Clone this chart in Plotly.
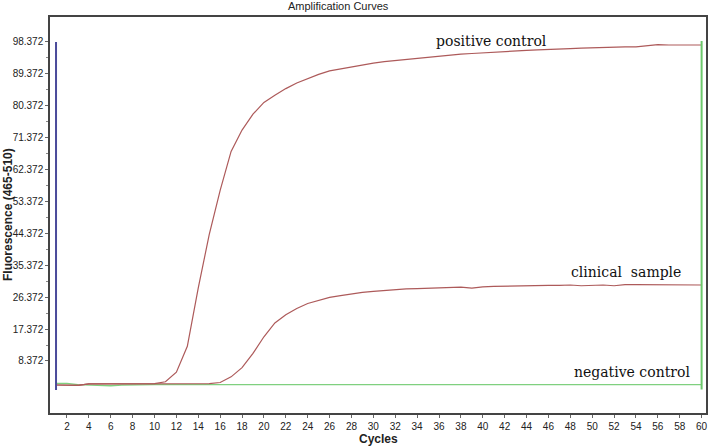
import plotly.graph_objects as go

cycles = list(range(1, 61))

positive_control = [1.6, 1.6, 1.5, 1.9, 1.9, 1.9, 1.9, 1.9, 1.9, 2.0,
                    2.5, 5.2, 12.5, 29.0, 44.0, 56.5, 67.5, 73.5, 78.0, 81.3,
                    83.3, 85.2, 86.8, 88.1, 89.2, 90.2, 90.8, 91.3, 91.9, 92.4,
                    92.8, 93.1, 93.4, 93.8, 94.2, 94.4, 94.7, 94.9, 95.1, 95.3,
                    95.6, 95.8, 95.9, 96.0, 96.1, 96.3, 96.4, 96.5, 96.6, 96.7,
                    96.8, 97.1, 97.0, 97.0, 97.2, 97.6, 97.5, 97.4, 97.5, 97.5]

clinical_sample = [1.6, 1.6, 1.5, 1.9, 1.9, 1.9, 1.9, 1.9, 1.9, 1.9,
                   1.9, 1.9, 1.9, 2.0, 2.0, 2.3, 3.9, 6.5, 10.5, 15.2,
                   19.1, 21.4, 23.2, 24.6, 25.5, 26.3, 26.8, 27.3, 27.7, 28.0,
                   28.3, 28.5, 28.7, 28.8, 28.9, 28.9, 29.1, 29.2, 28.9, 29.3,
                   29.4, 29.5, 29.6, 29.6, 29.7, 29.7, 29.7, 29.8, 29.6, 29.8,
                   29.8, 29.6, 29.9, 29.9, 29.9, 30.0, 29.8, 29.9, 29.9, 29.8]

negative_control = [2.0, 2.0, 1.7, 1.6, 1.4, 1.4, 1.6, 1.7, 1.7, 1.7,
                    1.7, 1.7, 1.7, 1.8, 1.8, 1.7, 1.7, 1.7, 1.7, 1.7,
                    1.7, 1.7, 1.7, 1.7, 1.7, 1.7, 1.7, 1.7, 1.7, 1.7,
                    1.7, 1.7, 1.7, 1.7, 1.7, 1.7, 1.7, 1.7, 1.7, 1.7,
                    1.7, 1.7, 1.8, 1.7, 1.7, 1.7, 1.7, 1.7, 1.7, 1.7,
                    1.7, 1.7, 1.7, 1.7, 1.7, 1.7, 1.7, 1.7, 1.7, 1.7]

# vertical marker lines (start / end cycle)
start_marker_x = [1, 1]
start_marker_y = [0.2, 98.372]
end_marker_x = [60, 60]
end_marker_y = [0.3, 98.6]

y_tick_vals = [8.372, 17.372, 26.372, 35.372, 44.372, 53.372, 62.372, 71.372, 80.372, 89.372, 98.372]
y_tick_text = ["8.372", "17.372", "26.372", "35.372", "44.372", "53.372", "62.372", "71.372", "80.372", "89.372", "98.372"]
x_tick_vals = list(range(2, 61, 2))

labels = ["positive control", "clinical&nbsp; sample", "negative control"]
label_x = [40.8, 53.1, 53.6]
label_y = [98.7, 33.6, 5.3]

red = "#ad5a5a"
green = "#7fd07f"

fig = go.Figure()
fig.add_trace(go.Scatter(x=cycles, y=negative_control, mode="lines",
                         line=dict(color=green, width=1.4), showlegend=False))
fig.add_trace(go.Scatter(x=cycles, y=clinical_sample, mode="lines",
                         line=dict(color=red, width=1.2), showlegend=False))
fig.add_trace(go.Scatter(x=cycles, y=positive_control, mode="lines",
                         line=dict(color=red, width=1.2), showlegend=False))
fig.add_trace(go.Scatter(x=start_marker_x, y=start_marker_y, mode="lines",
                         line=dict(color="#4b4b9b", width=2), showlegend=False))
fig.add_trace(go.Scatter(x=end_marker_x, y=end_marker_y, mode="lines",
                         line=dict(color="#6cc86c", width=2), showlegend=False))

for t, lx, ly in zip(labels, label_x, label_y):
    fig.add_annotation(x=lx, y=ly, text=t, showarrow=False, xanchor="center",
                       yanchor="middle",
                       font=dict(family="DejaVu Serif", size=14, color="#111"))

fig.add_annotation(x=0.44, y=1.0, xref="paper", yref="paper", yshift=3,
                   text="Amplification Curves", showarrow=False,
                   xanchor="center", yanchor="bottom",
                   font=dict(family="Liberation Sans", size=11, color="#222"))
fig.add_annotation(x=0.5, y=0, xref="paper", yref="paper", yshift=-17,
                   text="<b>Cycles</b>", showarrow=False,
                   xanchor="center", yanchor="top",
                   font=dict(family="Liberation Sans", size=12, color="#222"))
fig.add_annotation(x=0, y=0.5, xref="paper", yref="paper", xshift=-42,
                   text="<b>Fluorescence (465-510)</b>", showarrow=False,
                   textangle=-90, xanchor="center", yanchor="middle",
                   font=dict(family="Liberation Sans", size=12, color="#222"))

fig.update_layout(
    width=709, height=446,
    margin=dict(l=50, r=3, t=17, b=33, autoexpand=False),
    paper_bgcolor="white", plot_bgcolor="white",
    font=dict(family="Liberation Sans", size=10, color="#222"),
    xaxis=dict(range=[0.45, 60.4], tickvals=x_tick_vals, ticks="outside",
               ticklen=3, tickcolor="#666", showgrid=False, zeroline=False,
               showline=True, linecolor="#444", linewidth=1.5, mirror=True,
               automargin=False, tickfont=dict(size=10, color="#222")),
    yaxis=dict(range=[-6.3, 105.4], tickvals=y_tick_vals, ticktext=y_tick_text,
               ticks="outside", ticklen=3, tickcolor="#666", showgrid=False,
               zeroline=False, showline=True, linecolor="#444", linewidth=1.5,
               mirror=True, automargin=False, tickfont=dict(size=10, color="#222"),
               minor=dict(tickvals=[v + 4.5 for v in y_tick_vals[:-1]], ticks="outside",
                          ticklen=2, tickcolor="#888")),
)

fig.write_html("out.html", config={"displayModeBar": False},
               post_script="document.body.style.margin='0';")
